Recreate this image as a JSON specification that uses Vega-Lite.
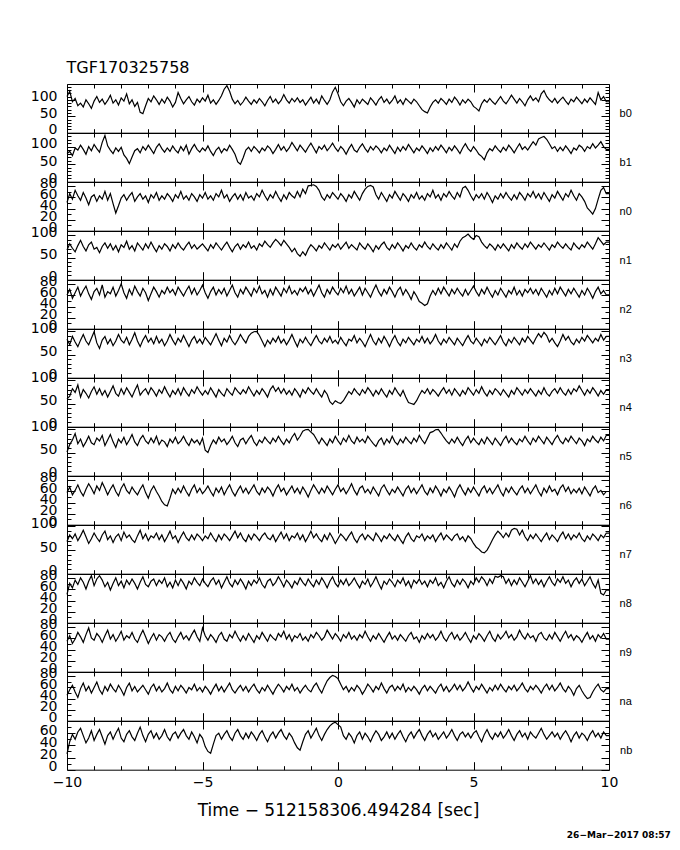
{
"$schema":"https://vega.github.io/schema/vega-lite/v6.json",
"background":"white",
"padding":{"left":28,"top":60,"right":5,"bottom":5},
"title":{"text":"TGF170325758","orient":"top","anchor":"start","frame":"bounds","angle":0,"fontSize":16,"font":"DejaVu Sans","fontWeight":"normal","align":"left","baseline":"bottom","offset":-16,"dx":38,"color":"black"},
"data":{"values":[
{"t":-10,"b0":110,"b1":81,"n0":51,"n1":67,"n2":61,"n3":83,"n4":60,"n5":51,"n6":58,"n7":68,"n8":51,"n9":55,"na":46,"nb":26},
{"t":-9.9,"b0":126,"b1":87,"n0":67,"n1":81,"n2":71,"n3":71,"n4":66,"n5":67,"n6":68,"n7":82,"n8":71,"n9":65,"na":56,"nb":46},
{"t":-9.8,"b0":94,"b1":75,"n0":57,"n1":71,"n2":55,"n3":89,"n4":82,"n5":77,"n6":54,"n7":74,"n8":63,"n9":51,"na":64,"nb":58},
{"t":-9.7,"b0":104,"b1":97,"n0":73,"n1":63,"n2":65,"n3":77,"n4":74,"n5":91,"n6":62,"n7":84,"n8":77,"n9":59,"na":52,"nb":50},
{"t":-9.6,"b0":82,"b1":91,"n0":63,"n1":77,"n2":75,"n3":67,"n4":90,"n5":69,"n6":72,"n7":70,"n8":69,"n9":71,"na":42,"nb":62},
{"t":-9.5,"b0":90,"b1":105,"n0":55,"n1":89,"n2":59,"n3":81,"n4":64,"n5":79,"n6":60,"n7":80,"n8":81,"n9":63,"na":58,"nb":68},
{"t":-9.4,"b0":78,"b1":93,"n0":69,"n1":75,"n2":69,"n3":93,"n4":80,"n5":63,"n6":52,"n7":92,"n8":73,"n9":53,"na":68,"nb":56},
{"t":-9.3,"b0":100,"b1":79,"n0":59,"n1":65,"n2":77,"n3":79,"n4":72,"n5":73,"n6":64,"n7":78,"n8":61,"n9":67,"na":54,"nb":44},
{"t":-9.2,"b0":88,"b1":101,"n0":47,"n1":79,"n2":63,"n3":71,"n4":62,"n5":85,"n6":74,"n7":64,"n8":75,"n9":79,"na":62,"nb":52},
{"t":-9.1,"b0":74,"b1":89,"n0":61,"n1":85,"n2":53,"n3":85,"n4":76,"n5":71,"n6":66,"n7":74,"n8":85,"n9":61,"na":50,"nb":64},
{"t":-9,"b0":96,"b1":107,"n0":65,"n1":69,"n2":67,"n3":99,"n4":86,"n5":67,"n6":56,"n7":86,"n8":67,"n9":57,"na":60,"nb":48},
{"t":-8.9,"b0":110,"b1":95,"n0":53,"n1":73,"n2":73,"n3":75,"n4":70,"n5":81,"n6":70,"n7":76,"n8":79,"n9":69,"na":70,"nb":58},
{"t":-8.8,"b0":92,"b1":85,"n0":63,"n1":61,"n2":61,"n3":63,"n4":82,"n5":75,"n6":62,"n7":68,"n8":85,"n9":63,"na":56,"nb":66},
{"t":-8.7,"b0":102,"b1":113,"n0":57,"n1":75,"n2":79,"n3":81,"n4":68,"n5":87,"n6":76,"n7":82,"n8":77,"n9":53,"na":48,"nb":54},
{"t":-8.6,"b0":86,"b1":133,"n0":71,"n1":83,"n2":57,"n3":89,"n4":78,"n5":65,"n6":66,"n7":90,"n8":65,"n9":65,"na":62,"nb":42},
{"t":-8.5,"b0":98,"b1":103,"n0":55,"n1":71,"n2":67,"n3":73,"n4":64,"n5":77,"n6":54,"n7":72,"n8":73,"n9":75,"na":54,"nb":56},
{"t":-8.4,"b0":114,"b1":91,"n0":67,"n1":81,"n2":63,"n3":83,"n4":76,"n5":89,"n6":64,"n7":80,"n8":59,"n9":59,"na":66,"nb":62},
{"t":-8.3,"b0":90,"b1":81,"n0":49,"n1":67,"n2":75,"n3":69,"n4":88,"n5":73,"n6":72,"n7":66,"n8":71,"n9":67,"na":58,"nb":50},
{"t":-8.2,"b0":100,"b1":97,"n0":32,"n1":77,"n2":59,"n3":79,"n4":72,"n5":61,"n6":60,"n7":78,"n8":81,"n9":55,"na":52,"nb":60},
{"t":-8.1,"b0":84,"b1":87,"n0":45,"n1":63,"n2":69,"n3":93,"n4":66,"n5":79,"n6":52,"n7":84,"n8":67,"n9":63,"na":64,"nb":68},
{"t":-8,"b0":106,"b1":99,"n0":59,"n1":79,"n2":81,"n3":81,"n4":82,"n5":71,"n6":66,"n7":70,"n8":75,"n9":73,"na":56,"nb":52},
{"t":-7.9,"b0":96,"b1":77,"n0":65,"n1":73,"n2":65,"n3":75,"n4":70,"n5":83,"n6":74,"n7":88,"n8":63,"n9":57,"na":46,"nb":46},
{"t":-7.8,"b0":118,"b1":67,"n0":55,"n1":87,"n2":55,"n3":87,"n4":84,"n5":67,"n6":62,"n7":76,"n8":77,"n9":65,"na":60,"nb":58},
{"t":-7.7,"b0":88,"b1":52,"n0":63,"n1":69,"n2":71,"n3":71,"n4":74,"n5":77,"n6":56,"n7":82,"n8":69,"n9":61,"na":68,"nb":64},
{"t":-7.6,"b0":100,"b1":71,"n0":69,"n1":77,"n2":61,"n3":83,"n4":64,"n5":89,"n6":68,"n7":72,"n8":79,"n9":71,"na":54,"nb":54},
{"t":-7.5,"b0":80,"b1":89,"n0":53,"n1":65,"n2":77,"n3":97,"n4":78,"n5":73,"n6":60,"n7":66,"n8":71,"n9":59,"na":62,"nb":48},
{"t":-7.4,"b0":92,"b1":95,"n0":61,"n1":83,"n2":67,"n3":79,"n4":90,"n5":65,"n6":54,"n7":80,"n8":61,"n9":53,"na":52,"nb":60},
{"t":-7.3,"b0":62,"b1":83,"n0":67,"n1":75,"n2":59,"n3":67,"n4":68,"n5":79,"n6":64,"n7":92,"n8":73,"n9":65,"na":58,"nb":70},
{"t":-7.2,"b0":58,"b1":101,"n0":57,"n1":67,"n2":73,"n3":81,"n4":76,"n5":87,"n6":72,"n7":74,"n8":83,"n9":75,"na":64,"nb":56},
{"t":-7.1,"b0":82,"b1":91,"n0":63,"n1":81,"n2":65,"n3":91,"n4":82,"n5":75,"n6":58,"n7":84,"n8":69,"n9":63,"na":56,"nb":46},
{"t":-7,"b0":104,"b1":105,"n0":51,"n1":71,"n2":51,"n3":77,"n4":70,"n5":69,"n6":48,"n7":70,"n8":65,"n9":51,"na":48,"nb":58},
{"t":-6.9,"b0":94,"b1":93,"n0":65,"n1":85,"n2":63,"n3":85,"n4":84,"n5":81,"n6":62,"n7":80,"n8":75,"n9":61,"na":60,"nb":64},
{"t":-6.8,"b0":112,"b1":81,"n0":59,"n1":73,"n2":75,"n3":73,"n4":76,"n5":71,"n6":70,"n7":76,"n8":79,"n9":69,"na":66,"nb":52},
{"t":-6.7,"b0":100,"b1":99,"n0":69,"n1":63,"n2":67,"n3":89,"n4":66,"n5":85,"n6":60,"n7":86,"n8":67,"n9":57,"na":54,"nb":60},
{"t":-6.6,"b0":86,"b1":109,"n0":55,"n1":77,"n2":57,"n3":75,"n4":80,"n5":67,"n6":52,"n7":72,"n8":77,"n9":67,"na":62,"nb":50},
{"t":-6.5,"b0":102,"b1":95,"n0":63,"n1":69,"n2":69,"n3":83,"n4":72,"n5":77,"n6":42,"n7":82,"n8":71,"n9":63,"na":52,"nb":56},
{"t":-6.4,"b0":90,"b1":85,"n0":57,"n1":81,"n2":63,"n3":69,"n4":86,"n5":73,"n6":36,"n7":68,"n8":81,"n9":55,"na":58,"nb":66},
{"t":-6.3,"b0":108,"b1":97,"n0":67,"n1":75,"n2":75,"n3":79,"n4":74,"n5":63,"n6":34,"n7":78,"n8":65,"n9":65,"na":68,"nb":54},
{"t":-6.2,"b0":96,"b1":87,"n0":61,"n1":65,"n2":65,"n3":93,"n4":64,"n5":79,"n6":48,"n7":90,"n8":73,"n9":71,"na":56,"nb":48},
{"t":-6.1,"b0":78,"b1":103,"n0":53,"n1":79,"n2":71,"n3":81,"n4":78,"n5":71,"n6":64,"n7":74,"n8":63,"n9":59,"na":50,"nb":58},
{"t":-6,"b0":92,"b1":91,"n0":65,"n1":71,"n2":61,"n3":71,"n4":70,"n5":83,"n6":56,"n7":80,"n8":77,"n9":53,"na":62,"nb":62},
{"t":-5.9,"b0":122,"b1":83,"n0":59,"n1":83,"n2":75,"n3":85,"n4":82,"n5":69,"n6":66,"n7":66,"n8":67,"n9":63,"na":54,"nb":52},
{"t":-5.8,"b0":104,"b1":101,"n0":71,"n1":73,"n2":67,"n3":77,"n4":68,"n5":75,"n6":58,"n7":78,"n8":79,"n9":71,"na":64,"nb":60},
{"t":-5.7,"b0":88,"b1":89,"n0":57,"n1":67,"n2":59,"n3":91,"n4":84,"n5":85,"n6":70,"n7":88,"n8":71,"n9":59,"na":58,"nb":66},
{"t":-5.6,"b0":100,"b1":105,"n0":63,"n1":77,"n2":69,"n3":79,"n4":74,"n5":73,"n6":60,"n7":76,"n8":61,"n9":65,"na":50,"nb":56},
{"t":-5.5,"b0":110,"b1":79,"n0":55,"n1":85,"n2":77,"n3":67,"n4":66,"n5":65,"n6":52,"n7":70,"n8":75,"n9":57,"na":60,"nb":50},
{"t":-5.4,"b0":94,"b1":95,"n0":67,"n1":71,"n2":63,"n3":81,"n4":80,"n5":79,"n6":64,"n7":82,"n8":69,"n9":67,"na":56,"nb":62},
{"t":-5.3,"b0":84,"b1":107,"n0":61,"n1":79,"n2":73,"n3":89,"n4":72,"n5":71,"n6":72,"n7":72,"n8":81,"n9":75,"na":66,"nb":54},
{"t":-5.2,"b0":102,"b1":93,"n0":53,"n1":69,"n2":61,"n3":75,"n4":86,"n5":77,"n6":58,"n7":84,"n8":73,"n9":63,"na":54,"nb":44},
{"t":-5.1,"b0":92,"b1":85,"n0":65,"n1":75,"n2":69,"n3":83,"n4":76,"n5":67,"n6":66,"n7":78,"n8":67,"n9":55,"na":60,"nb":58},
{"t":-5,"b0":106,"b1":97,"n0":59,"n1":81,"n2":79,"n3":73,"n4":68,"n5":81,"n6":56,"n7":70,"n8":79,"n9":79,"na":52,"nb":52},
{"t":-4.9,"b0":96,"b1":89,"n0":69,"n1":73,"n2":65,"n3":87,"n4":78,"n5":55,"n6":62,"n7":80,"n8":71,"n9":65,"na":62,"nb":38},
{"t":-4.8,"b0":114,"b1":103,"n0":57,"n1":65,"n2":55,"n3":79,"n4":70,"n5":50,"n6":70,"n7":74,"n8":65,"n9":57,"na":56,"nb":30},
{"t":-4.7,"b0":90,"b1":87,"n0":63,"n1":79,"n2":67,"n3":71,"n4":84,"n5":65,"n6":60,"n7":86,"n8":75,"n9":67,"na":48,"nb":27},
{"t":-4.6,"b0":100,"b1":75,"n0":55,"n1":71,"n2":75,"n3":83,"n4":74,"n5":77,"n6":52,"n7":76,"n8":81,"n9":61,"na":58,"nb":42},
{"t":-4.5,"b0":86,"b1":91,"n0":67,"n1":83,"n2":61,"n3":95,"n4":64,"n5":69,"n6":66,"n7":68,"n8":69,"n9":53,"na":66,"nb":56},
{"t":-4.4,"b0":98,"b1":99,"n0":61,"n1":75,"n2":71,"n3":81,"n4":80,"n5":83,"n6":58,"n7":82,"n8":77,"n9":65,"na":54,"nb":60},
{"t":-4.3,"b0":112,"b1":83,"n0":73,"n1":67,"n2":63,"n3":69,"n4":72,"n5":73,"n6":68,"n7":72,"n8":63,"n9":71,"na":62,"nb":50},
{"t":-4.2,"b0":132,"b1":95,"n0":59,"n1":77,"n2":73,"n3":85,"n4":66,"n5":79,"n6":54,"n7":84,"n8":73,"n9":59,"na":52,"nb":58},
{"t":-4.1,"b0":143,"b1":89,"n0":65,"n1":85,"n2":59,"n3":77,"n4":82,"n5":67,"n6":64,"n7":78,"n8":83,"n9":55,"na":60,"nb":64},
{"t":-4,"b0":126,"b1":105,"n0":53,"n1":73,"n2":69,"n3":91,"n4":74,"n5":75,"n6":72,"n7":70,"n8":71,"n9":67,"na":68,"nb":54},
{"t":-3.9,"b0":102,"b1":93,"n0":61,"n1":63,"n2":79,"n3":79,"n4":68,"n5":85,"n6":60,"n7":80,"n8":65,"n9":61,"na":56,"nb":48},
{"t":-3.8,"b0":88,"b1":79,"n0":67,"n1":75,"n2":65,"n3":71,"n4":84,"n5":71,"n6":52,"n7":90,"n8":77,"n9":73,"na":50,"nb":60},
{"t":-3.7,"b0":98,"b1":57,"n0":57,"n1":81,"n2":57,"n3":81,"n4":76,"n5":63,"n6":62,"n7":76,"n8":69,"n9":63,"na":58,"nb":66},
{"t":-3.6,"b0":84,"b1":50,"n0":65,"n1":69,"n2":71,"n3":93,"n4":70,"n5":77,"n6":70,"n7":86,"n8":79,"n9":55,"na":64,"nb":56},
{"t":-3.5,"b0":94,"b1":69,"n0":55,"n1":79,"n2":63,"n3":83,"n4":80,"n5":81,"n6":58,"n7":74,"n8":71,"n9":65,"na":54,"nb":50},
{"t":-3.4,"b0":108,"b1":91,"n0":69,"n1":73,"n2":75,"n3":75,"n4":72,"n5":69,"n6":66,"n7":68,"n8":61,"n9":57,"na":62,"nb":60},
{"t":-3.3,"b0":96,"b1":99,"n0":59,"n1":85,"n2":67,"n3":89,"n4":86,"n5":79,"n6":56,"n7":82,"n8":75,"n9":69,"na":52,"nb":52},
{"t":-3.2,"b0":86,"b1":87,"n0":63,"n1":71,"n2":59,"n3":96,"n4":76,"n5":87,"n6":64,"n7":72,"n8":67,"n9":61,"na":60,"nb":62},
{"t":-3.1,"b0":100,"b1":101,"n0":55,"n1":77,"n2":73,"n3":99,"n4":66,"n5":73,"n6":72,"n7":84,"n8":77,"n9":53,"na":66,"nb":56},
{"t":-3,"b0":90,"b1":93,"n0":67,"n1":67,"n2":65,"n3":100,"n4":78,"n5":65,"n6":60,"n7":78,"n8":71,"n9":65,"na":56,"nb":48},
{"t":-2.9,"b0":104,"b1":83,"n0":61,"n1":81,"n2":77,"n3":91,"n4":70,"n5":77,"n6":54,"n7":70,"n8":81,"n9":59,"na":50,"nb":58},
{"t":-2.8,"b0":94,"b1":97,"n0":73,"n1":75,"n2":63,"n3":79,"n4":82,"n5":71,"n6":66,"n7":80,"n8":69,"n9":71,"na":60,"nb":64},
{"t":-2.7,"b0":82,"b1":89,"n0":63,"n1":87,"n2":69,"n3":67,"n4":74,"n5":83,"n6":58,"n7":86,"n8":63,"n9":63,"na":54,"nb":54},
{"t":-2.6,"b0":98,"b1":103,"n0":55,"n1":79,"n2":57,"n3":81,"n4":64,"n5":75,"n6":68,"n7":76,"n8":75,"n9":55,"na":64,"nb":46},
{"t":-2.5,"b0":110,"b1":95,"n0":65,"n1":73,"n2":71,"n3":73,"n4":80,"n5":69,"n6":62,"n7":72,"n8":79,"n9":67,"na":56,"nb":56},
{"t":-2.4,"b0":92,"b1":81,"n0":59,"n1":83,"n2":61,"n3":85,"n4":88,"n5":81,"n6":52,"n7":82,"n8":67,"n9":61,"na":48,"nb":62},
{"t":-2.3,"b0":102,"b1":93,"n0":71,"n1":91,"n2":75,"n3":77,"n4":76,"n5":73,"n6":64,"n7":68,"n8":73,"n9":57,"na":58,"nb":52},
{"t":-2.2,"b0":88,"b1":107,"n0":61,"n1":85,"n2":67,"n3":89,"n4":84,"n5":85,"n6":72,"n7":78,"n8":83,"n9":69,"na":66,"nb":60},
{"t":-2.1,"b0":98,"b1":91,"n0":53,"n1":77,"n2":59,"n3":75,"n4":72,"n5":75,"n6":60,"n7":88,"n8":75,"n9":63,"na":60,"nb":66},
{"t":-2,"b0":116,"b1":101,"n0":65,"n1":89,"n2":73,"n3":83,"n4":82,"n5":67,"n6":66,"n7":74,"n8":65,"n9":73,"na":52,"nb":56},
{"t":-1.9,"b0":100,"b1":87,"n0":57,"n1":81,"n2":65,"n3":71,"n4":70,"n5":79,"n6":54,"n7":84,"n8":77,"n9":59,"na":62,"nb":50},
{"t":-1.8,"b0":90,"b1":97,"n0":69,"n1":73,"n2":77,"n3":81,"n4":78,"n5":71,"n6":62,"n7":70,"n8":71,"n9":67,"na":56,"nb":60},
{"t":-1.7,"b0":104,"b1":113,"n0":63,"n1":63,"n2":63,"n3":93,"n4":68,"n5":83,"n6":70,"n7":80,"n8":63,"n9":55,"na":66,"nb":54},
{"t":-1.6,"b0":94,"b1":101,"n0":59,"n1":71,"n2":69,"n3":79,"n4":82,"n5":91,"n6":58,"n7":76,"n8":75,"n9":65,"na":54,"nb":44},
{"t":-1.5,"b0":106,"b1":89,"n0":71,"n1":59,"n2":61,"n3":67,"n4":74,"n5":77,"n6":66,"n7":86,"n8":69,"n9":61,"na":60,"nb":36},
{"t":-1.4,"b0":92,"b1":105,"n0":61,"n1":53,"n2":73,"n3":83,"n4":64,"n5":85,"n6":56,"n7":72,"n8":81,"n9":69,"na":50,"nb":32},
{"t":-1.3,"b0":100,"b1":95,"n0":75,"n1":63,"n2":67,"n3":75,"n4":80,"n5":96,"n6":68,"n7":82,"n8":73,"n9":57,"na":58,"nb":46},
{"t":-1.2,"b0":84,"b1":85,"n0":67,"n1":55,"n2":75,"n3":87,"n4":72,"n5":99,"n6":60,"n7":68,"n8":67,"n9":63,"na":64,"nb":58},
{"t":-1.1,"b0":96,"b1":99,"n0":81,"n1":69,"n2":63,"n3":77,"n4":84,"n5":100,"n6":50,"n7":78,"n8":79,"n9":55,"na":56,"nb":64},
{"t":-1,"b0":108,"b1":111,"n0":82,"n1":79,"n2":71,"n3":69,"n4":76,"n5":94,"n6":62,"n7":90,"n8":71,"n9":67,"na":52,"nb":52},
{"t":-0.9,"b0":90,"b1":97,"n0":83,"n1":73,"n2":59,"n3":81,"n4":70,"n5":89,"n6":72,"n7":76,"n8":65,"n9":61,"na":62,"nb":60},
{"t":-0.8,"b0":102,"b1":83,"n0":80,"n1":65,"n2":69,"n3":91,"n4":82,"n5":79,"n6":64,"n7":84,"n8":77,"n9":71,"na":68,"nb":68},
{"t":-0.7,"b0":88,"b1":101,"n0":73,"n1":77,"n2":79,"n3":79,"n4":72,"n5":69,"n6":56,"n7":74,"n8":69,"n9":65,"na":58,"nb":56},
{"t":-0.6,"b0":112,"b1":93,"n0":61,"n1":71,"n2":65,"n3":73,"n4":64,"n5":81,"n6":66,"n7":68,"n8":81,"n9":57,"na":50,"nb":48},
{"t":-0.5,"b0":98,"b1":105,"n0":55,"n1":83,"n2":57,"n3":85,"n4":78,"n5":73,"n6":58,"n7":82,"n8":73,"n9":63,"na":62,"nb":58},
{"t":-0.4,"b0":86,"b1":89,"n0":65,"n1":75,"n2":71,"n3":77,"n4":70,"n5":65,"n6":70,"n7":72,"n8":63,"n9":75,"na":72,"nb":66},
{"t":-0.3,"b0":100,"b1":99,"n0":59,"n1":67,"n2":63,"n3":89,"n4":54,"n5":79,"n6":62,"n7":86,"n8":75,"n9":67,"na":78,"nb":72},
{"t":-0.2,"b0":124,"b1":111,"n0":69,"n1":79,"n2":75,"n3":75,"n4":48,"n5":71,"n6":54,"n7":76,"n8":83,"n9":59,"na":82,"nb":76},
{"t":-0.1,"b0":138,"b1":97,"n0":63,"n1":73,"n2":67,"n3":81,"n4":56,"n5":85,"n6":64,"n7":64,"n8":71,"n9":69,"na":80,"nb":78},
{"t":0,"b0":118,"b1":87,"n0":57,"n1":81,"n2":61,"n3":73,"n4":52,"n5":75,"n6":72,"n7":74,"n8":65,"n9":63,"na":76,"nb":74},
{"t":0.1,"b0":94,"b1":101,"n0":67,"n1":69,"n2":73,"n3":87,"n4":50,"n5":67,"n6":60,"n7":84,"n8":77,"n9":55,"na":66,"nb":70},
{"t":0.2,"b0":82,"b1":93,"n0":61,"n1":77,"n2":65,"n3":77,"n4":56,"n5":81,"n6":66,"n7":78,"n8":69,"n9":67,"na":56,"nb":56},
{"t":0.3,"b0":96,"b1":79,"n0":53,"n1":85,"n2":77,"n3":69,"n4":66,"n5":73,"n6":56,"n7":70,"n8":79,"n9":61,"na":62,"nb":50},
{"t":0.4,"b0":104,"b1":95,"n0":65,"n1":71,"n2":63,"n3":83,"n4":76,"n5":87,"n6":64,"n7":80,"n8":67,"n9":71,"na":52,"nb":60},
{"t":0.5,"b0":92,"b1":107,"n0":59,"n1":79,"n2":71,"n3":79,"n4":70,"n5":75,"n6":74,"n7":88,"n8":73,"n9":59,"na":60,"nb":54},
{"t":0.6,"b0":78,"b1":91,"n0":71,"n1":73,"n2":59,"n3":91,"n4":82,"n5":69,"n6":62,"n7":74,"n8":81,"n9":65,"na":54,"nb":44},
{"t":0.7,"b0":100,"b1":85,"n0":63,"n1":67,"n2":67,"n3":75,"n4":74,"n5":83,"n6":54,"n7":66,"n8":71,"n9":57,"na":64,"nb":56},
{"t":0.8,"b0":88,"b1":99,"n0":55,"n1":83,"n2":75,"n3":85,"n4":68,"n5":73,"n6":66,"n7":78,"n8":63,"n9":67,"na":58,"nb":62},
{"t":0.9,"b0":102,"b1":109,"n0":67,"n1":75,"n2":61,"n3":77,"n4":80,"n5":79,"n6":70,"n7":84,"n8":75,"n9":61,"na":48,"nb":50},
{"t":1,"b0":94,"b1":95,"n0":75,"n1":69,"n2":73,"n3":67,"n4":72,"n5":71,"n6":58,"n7":72,"n8":69,"n9":73,"na":56,"nb":60},
{"t":1.1,"b0":86,"b1":85,"n0":80,"n1":81,"n2":65,"n3":81,"n4":84,"n5":85,"n6":64,"n7":82,"n8":79,"n9":63,"na":66,"nb":54},
{"t":1.2,"b0":106,"b1":101,"n0":82,"n1":73,"n2":57,"n3":93,"n4":76,"n5":77,"n6":56,"n7":76,"n8":65,"n9":55,"na":60,"nb":46},
{"t":1.3,"b0":96,"b1":91,"n0":79,"n1":63,"n2":69,"n3":79,"n4":66,"n5":69,"n6":68,"n7":70,"n8":73,"n9":65,"na":52,"nb":56},
{"t":1.4,"b0":84,"b1":103,"n0":65,"n1":77,"n2":79,"n3":71,"n4":78,"n5":63,"n6":60,"n7":86,"n8":83,"n9":59,"na":62,"nb":64},
{"t":1.5,"b0":100,"b1":95,"n0":57,"n1":69,"n2":67,"n3":85,"n4":70,"n5":75,"n6":52,"n7":78,"n8":71,"n9":69,"na":56,"nb":58},
{"t":1.6,"b0":110,"b1":83,"n0":69,"n1":79,"n2":59,"n3":75,"n4":82,"n5":81,"n6":66,"n7":68,"n8":61,"n9":61,"na":68,"nb":48},
{"t":1.7,"b0":92,"b1":97,"n0":61,"n1":85,"n2":71,"n3":89,"n4":72,"n5":67,"n6":72,"n7":80,"n8":75,"n9":53,"na":58,"nb":54},
{"t":1.8,"b0":102,"b1":89,"n0":53,"n1":73,"n2":63,"n3":79,"n4":64,"n5":79,"n6":62,"n7":74,"n8":69,"n9":63,"na":50,"nb":62},
{"t":1.9,"b0":88,"b1":105,"n0":65,"n1":67,"n2":75,"n3":67,"n4":78,"n5":71,"n6":54,"n7":84,"n8":79,"n9":71,"na":60,"nb":52},
{"t":2,"b0":98,"b1":93,"n0":59,"n1":79,"n2":67,"n3":81,"n4":70,"n5":85,"n6":64,"n7":76,"n8":73,"n9":59,"na":64,"nb":60},
{"t":2.1,"b0":112,"b1":81,"n0":71,"n1":71,"n2":57,"n3":91,"n4":84,"n5":73,"n6":58,"n7":70,"n8":65,"n9":65,"na":54,"nb":50},
{"t":2.2,"b0":90,"b1":99,"n0":63,"n1":83,"n2":69,"n3":77,"n4":74,"n5":67,"n6":68,"n7":82,"n8":77,"n9":57,"na":62,"nb":58},
{"t":2.3,"b0":100,"b1":87,"n0":55,"n1":75,"n2":75,"n3":69,"n4":66,"n5":79,"n6":60,"n7":72,"n8":71,"n9":67,"na":56,"nb":64},
{"t":2.4,"b0":86,"b1":101,"n0":67,"n1":65,"n2":61,"n3":83,"n4":78,"n5":71,"n6":52,"n7":64,"n8":81,"n9":61,"na":66,"nb":54},
{"t":2.5,"b0":104,"b1":91,"n0":61,"n1":77,"n2":71,"n3":75,"n4":64,"n5":83,"n6":64,"n7":78,"n8":67,"n9":55,"na":52,"nb":46},
{"t":2.6,"b0":96,"b1":107,"n0":53,"n1":71,"n2":63,"n3":87,"n4":52,"n5":75,"n6":70,"n7":86,"n8":75,"n9":65,"na":60,"nb":56},
{"t":2.7,"b0":88,"b1":95,"n0":65,"n1":83,"n2":53,"n3":79,"n4":50,"n5":69,"n6":58,"n7":74,"n8":63,"n9":71,"na":54,"nb":62},
{"t":2.8,"b0":102,"b1":83,"n0":59,"n1":73,"n2":67,"n3":71,"n4":48,"n5":81,"n6":66,"n7":68,"n8":77,"n9":59,"na":62,"nb":52},
{"t":2.9,"b0":94,"b1":97,"n0":69,"n1":67,"n2":59,"n3":83,"n4":56,"n5":73,"n6":56,"n7":80,"n8":71,"n9":63,"na":56,"nb":60},
{"t":3,"b0":82,"b1":89,"n0":57,"n1":79,"n2":49,"n3":77,"n4":68,"n5":87,"n6":64,"n7":76,"n8":79,"n9":53,"na":48,"nb":66},
{"t":3.1,"b0":70,"b1":103,"n0":63,"n1":73,"n2":46,"n3":89,"n4":78,"n5":77,"n6":72,"n7":84,"n8":69,"n9":65,"na":58,"nb":56},
{"t":3.2,"b0":64,"b1":93,"n0":55,"n1":85,"n2":42,"n3":75,"n4":72,"n5":69,"n6":60,"n7":70,"n8":75,"n9":59,"na":64,"nb":48},
{"t":3.3,"b0":60,"b1":81,"n0":67,"n1":75,"n2":45,"n3":85,"n4":82,"n5":81,"n6":54,"n7":80,"n8":65,"n9":69,"na":54,"nb":58},
{"t":3.4,"b0":78,"b1":97,"n0":61,"n1":69,"n2":59,"n3":73,"n4":70,"n5":93,"n6":66,"n7":74,"n8":77,"n9":61,"na":62,"nb":64},
{"t":3.5,"b0":92,"b1":87,"n0":73,"n1":81,"n2":69,"n3":81,"n4":80,"n5":95,"n6":58,"n7":82,"n8":71,"n9":67,"na":56,"nb":54},
{"t":3.6,"b0":100,"b1":101,"n0":59,"n1":73,"n2":61,"n3":93,"n4":74,"n5":99,"n6":70,"n7":68,"n8":81,"n9":57,"na":50,"nb":60},
{"t":3.7,"b0":90,"b1":91,"n0":65,"n1":67,"n2":73,"n3":79,"n4":66,"n5":100,"n6":62,"n7":78,"n8":67,"n9":63,"na":60,"nb":50},
{"t":3.8,"b0":104,"b1":105,"n0":55,"n1":79,"n2":63,"n3":71,"n4":76,"n5":92,"n6":52,"n7":86,"n8":73,"n9":73,"na":66,"nb":56},
{"t":3.9,"b0":96,"b1":95,"n0":67,"n1":71,"n2":75,"n3":83,"n4":84,"n5":83,"n6":64,"n7":72,"n8":63,"n9":61,"na":54,"nb":62},
{"t":4,"b0":86,"b1":83,"n0":61,"n1":83,"n2":67,"n3":75,"n4":72,"n5":75,"n6":58,"n7":82,"n8":75,"n9":55,"na":62,"nb":52},
{"t":4.1,"b0":102,"b1":99,"n0":71,"n1":75,"n2":59,"n3":87,"n4":80,"n5":69,"n6":68,"n7":76,"n8":83,"n9":65,"na":52,"nb":58},
{"t":4.2,"b0":92,"b1":89,"n0":63,"n1":67,"n2":71,"n3":79,"n4":68,"n5":79,"n6":60,"n7":70,"n8":71,"n9":71,"na":58,"nb":66},
{"t":4.3,"b0":108,"b1":103,"n0":57,"n1":81,"n2":63,"n3":71,"n4":82,"n5":71,"n6":50,"n7":80,"n8":65,"n9":59,"na":66,"nb":56},
{"t":4.4,"b0":98,"b1":93,"n0":69,"n1":73,"n2":73,"n3":85,"n4":74,"n5":83,"n6":64,"n7":84,"n8":77,"n9":67,"na":56,"nb":48},
{"t":4.5,"b0":84,"b1":81,"n0":61,"n1":87,"n2":65,"n3":77,"n4":66,"n5":73,"n6":72,"n7":72,"n8":69,"n9":57,"na":64,"nb":58},
{"t":4.6,"b0":100,"b1":97,"n0":77,"n1":95,"n2":59,"n3":69,"n4":78,"n5":65,"n6":62,"n7":78,"n8":79,"n9":63,"na":54,"nb":62},
{"t":4.7,"b0":90,"b1":109,"n0":80,"n1":98,"n2":71,"n3":81,"n4":70,"n5":77,"n6":54,"n7":68,"n8":73,"n9":71,"na":60,"nb":54},
{"t":4.8,"b0":102,"b1":95,"n0":73,"n1":103,"n2":61,"n3":91,"n4":84,"n5":85,"n6":66,"n7":80,"n8":63,"n9":61,"na":70,"nb":60},
{"t":4.9,"b0":94,"b1":87,"n0":63,"n1":96,"n2":69,"n3":79,"n4":76,"n5":71,"n6":58,"n7":74,"n8":75,"n9":53,"na":60,"nb":52},
{"t":5,"b0":80,"b1":101,"n0":55,"n1":91,"n2":77,"n3":73,"n4":68,"n5":81,"n6":68,"n7":64,"n8":69,"n9":65,"na":52,"nb":60},
{"t":5.1,"b0":74,"b1":91,"n0":65,"n1":100,"n2":67,"n3":85,"n4":80,"n5":73,"n6":60,"n7":56,"n8":81,"n9":59,"na":62,"nb":64},
{"t":5.2,"b0":66,"b1":79,"n0":59,"n1":97,"n2":59,"n3":77,"n4":72,"n5":67,"n6":52,"n7":52,"n8":73,"n9":69,"na":56,"nb":54},
{"t":5.3,"b0":88,"b1":73,"n0":67,"n1":85,"n2":71,"n3":69,"n4":86,"n5":79,"n6":64,"n7":46,"n8":83,"n9":63,"na":66,"nb":46},
{"t":5.4,"b0":100,"b1":63,"n0":57,"n1":77,"n2":63,"n3":83,"n4":74,"n5":69,"n6":70,"n7":44,"n8":77,"n9":55,"na":58,"nb":58},
{"t":5.5,"b0":92,"b1":83,"n0":69,"n1":71,"n2":75,"n3":75,"n4":66,"n5":83,"n6":58,"n7":50,"n8":67,"n9":65,"na":50,"nb":66},
{"t":5.6,"b0":104,"b1":95,"n0":61,"n1":81,"n2":65,"n3":87,"n4":78,"n5":75,"n6":66,"n7":60,"n8":79,"n9":73,"na":60,"nb":56},
{"t":5.7,"b0":94,"b1":89,"n0":51,"n1":75,"n2":57,"n3":79,"n4":70,"n5":67,"n6":56,"n7":72,"n8":71,"n9":61,"na":54,"nb":50},
{"t":5.8,"b0":86,"b1":103,"n0":63,"n1":67,"n2":69,"n3":71,"n4":82,"n5":81,"n6":64,"n7":82,"n8":84,"n9":55,"na":64,"nb":60},
{"t":5.9,"b0":98,"b1":93,"n0":57,"n1":79,"n2":61,"n3":81,"n4":76,"n5":73,"n6":72,"n7":90,"n8":82,"n9":67,"na":56,"nb":54},
{"t":6,"b0":110,"b1":85,"n0":67,"n1":71,"n2":73,"n3":91,"n4":68,"n5":65,"n6":60,"n7":84,"n8":85,"n9":59,"na":66,"nb":62},
{"t":6.1,"b0":96,"b1":99,"n0":59,"n1":81,"n2":65,"n3":77,"n4":80,"n5":77,"n6":52,"n7":76,"n8":83,"n9":65,"na":58,"nb":52},
{"t":6.2,"b0":88,"b1":89,"n0":69,"n1":73,"n2":57,"n3":69,"n4":72,"n5":85,"n6":66,"n7":86,"n8":71,"n9":73,"na":52,"nb":58},
{"t":6.3,"b0":100,"b1":105,"n0":61,"n1":65,"n2":69,"n3":83,"n4":64,"n5":71,"n6":58,"n7":78,"n8":79,"n9":61,"na":62,"nb":66},
{"t":6.4,"b0":114,"b1":95,"n0":55,"n1":79,"n2":63,"n3":75,"n4":78,"n5":81,"n6":68,"n7":92,"n8":67,"n9":67,"na":56,"nb":56},
{"t":6.5,"b0":102,"b1":83,"n0":65,"n1":71,"n2":75,"n3":87,"n4":70,"n5":73,"n6":60,"n7":96,"n8":77,"n9":57,"na":64,"nb":48},
{"t":6.6,"b0":90,"b1":97,"n0":57,"n1":83,"n2":61,"n3":79,"n4":84,"n5":67,"n6":54,"n7":94,"n8":69,"n9":63,"na":54,"nb":58},
{"t":6.7,"b0":104,"b1":109,"n0":69,"n1":75,"n2":69,"n3":71,"n4":76,"n5":79,"n6":64,"n7":82,"n8":81,"n9":75,"na":60,"nb":64},
{"t":6.8,"b0":94,"b1":93,"n0":63,"n1":69,"n2":59,"n3":85,"n4":68,"n5":73,"n6":70,"n7":92,"n8":73,"n9":65,"na":68,"nb":54},
{"t":6.9,"b0":82,"b1":101,"n0":55,"n1":81,"n2":71,"n3":77,"n4":80,"n5":85,"n6":58,"n7":78,"n8":65,"n9":59,"na":58,"nb":60},
{"t":7,"b0":100,"b1":91,"n0":67,"n1":73,"n2":65,"n3":89,"n4":72,"n5":75,"n6":66,"n7":70,"n8":75,"n9":69,"na":52,"nb":50},
{"t":7.1,"b0":112,"b1":103,"n0":61,"n1":85,"n2":73,"n3":81,"n4":82,"n5":67,"n6":56,"n7":82,"n8":85,"n9":61,"na":62,"nb":62},
{"t":7.2,"b0":98,"b1":115,"n0":71,"n1":77,"n2":63,"n3":73,"n4":74,"n5":81,"n6":64,"n7":74,"n8":71,"n9":65,"na":56,"nb":56},
{"t":7.3,"b0":106,"b1":105,"n0":59,"n1":69,"n2":71,"n3":85,"n4":66,"n5":73,"n6":72,"n7":84,"n8":79,"n9":55,"na":64,"nb":52},
{"t":7.4,"b0":94,"b1":123,"n0":67,"n1":79,"n2":61,"n3":95,"n4":78,"n5":85,"n6":60,"n7":76,"n8":69,"n9":67,"na":58,"nb":60},
{"t":7.5,"b0":118,"b1":127,"n0":57,"n1":73,"n2":73,"n3":87,"n4":70,"n5":77,"n6":52,"n7":68,"n8":77,"n9":71,"na":50,"nb":68},
{"t":7.6,"b0":128,"b1":130,"n0":69,"n1":83,"n2":65,"n3":98,"n4":84,"n5":69,"n6":66,"n7":78,"n8":65,"n9":61,"na":60,"nb":58},
{"t":7.7,"b0":110,"b1":122,"n0":61,"n1":75,"n2":57,"n3":91,"n4":72,"n5":83,"n6":58,"n7":86,"n8":75,"n9":57,"na":66,"nb":50},
{"t":7.8,"b0":100,"b1":109,"n0":53,"n1":67,"n2":69,"n3":77,"n4":66,"n5":75,"n6":70,"n7":72,"n8":83,"n9":67,"na":56,"nb":56},
{"t":7.9,"b0":92,"b1":95,"n0":65,"n1":79,"n2":61,"n3":85,"n4":76,"n5":67,"n6":60,"n7":82,"n8":73,"n9":59,"na":64,"nb":62},
{"t":8,"b0":104,"b1":101,"n0":59,"n1":73,"n2":73,"n3":75,"n4":82,"n5":79,"n6":64,"n7":76,"n8":67,"n9":71,"na":54,"nb":54},
{"t":8.1,"b0":90,"b1":87,"n0":71,"n1":85,"n2":63,"n3":67,"n4":72,"n5":87,"n6":54,"n7":68,"n8":79,"n9":63,"na":60,"nb":60},
{"t":8.2,"b0":100,"b1":99,"n0":63,"n1":77,"n2":75,"n3":79,"n4":84,"n5":75,"n6":66,"n7":80,"n8":73,"n9":55,"na":68,"nb":50},
{"t":8.3,"b0":108,"b1":89,"n0":55,"n1":71,"n2":67,"n3":93,"n4":74,"n5":69,"n6":72,"n7":88,"n8":83,"n9":65,"na":58,"nb":58},
{"t":8.4,"b0":96,"b1":103,"n0":67,"n1":81,"n2":59,"n3":81,"n4":68,"n5":81,"n6":60,"n7":74,"n8":71,"n9":73,"na":52,"nb":64},
{"t":8.5,"b0":86,"b1":93,"n0":61,"n1":73,"n2":71,"n3":89,"n4":80,"n5":73,"n6":68,"n7":84,"n8":77,"n9":61,"na":62,"nb":56},
{"t":8.6,"b0":102,"b1":81,"n0":73,"n1":67,"n2":63,"n3":77,"n4":70,"n5":85,"n6":56,"n7":72,"n8":65,"n9":67,"na":56,"nb":46},
{"t":8.7,"b0":94,"b1":97,"n0":63,"n1":83,"n2":73,"n3":71,"n4":82,"n5":77,"n6":64,"n7":82,"n8":75,"n9":57,"na":46,"nb":56},
{"t":8.8,"b0":108,"b1":91,"n0":55,"n1":75,"n2":65,"n3":83,"n4":76,"n5":69,"n6":58,"n7":76,"n8":81,"n9":65,"na":58,"nb":62},
{"t":8.9,"b0":98,"b1":105,"n0":67,"n1":69,"n2":57,"n3":75,"n4":88,"n5":81,"n6":66,"n7":86,"n8":71,"n9":61,"na":64,"nb":52},
{"t":9,"b0":88,"b1":99,"n0":61,"n1":79,"n2":69,"n3":87,"n4":78,"n5":75,"n6":56,"n7":74,"n8":79,"n9":53,"na":54,"nb":60},
{"t":9.1,"b0":102,"b1":87,"n0":53,"n1":73,"n2":61,"n3":79,"n4":68,"n5":65,"n6":68,"n7":68,"n8":67,"n9":63,"na":46,"nb":56},
{"t":9.2,"b0":92,"b1":101,"n0":41,"n1":85,"n2":73,"n3":91,"n4":80,"n5":79,"n6":60,"n7":80,"n8":75,"n9":71,"na":40,"nb":48},
{"t":9.3,"b0":106,"b1":95,"n0":36,"n1":77,"n2":65,"n3":83,"n4":72,"n5":73,"n6":52,"n7":72,"n8":83,"n9":59,"na":42,"nb":58},
{"t":9.4,"b0":96,"b1":109,"n0":30,"n1":69,"n2":55,"n3":75,"n4":84,"n5":85,"n6":64,"n7":84,"n8":71,"n9":65,"na":52,"nb":64},
{"t":9.5,"b0":86,"b1":97,"n0":40,"n1":81,"n2":67,"n3":85,"n4":76,"n5":77,"n6":70,"n7":78,"n8":63,"n9":55,"na":60,"nb":54},
{"t":9.6,"b0":122,"b1":105,"n0":57,"n1":95,"n2":75,"n3":79,"n4":66,"n5":71,"n6":58,"n7":70,"n8":77,"n9":67,"na":66,"nb":60},
{"t":9.7,"b0":100,"b1":115,"n0":73,"n1":87,"n2":63,"n3":93,"n4":78,"n5":83,"n6":62,"n7":82,"n8":53,"n9":61,"na":56,"nb":52},
{"t":9.8,"b0":110,"b1":101,"n0":78,"n1":79,"n2":69,"n3":81,"n4":70,"n5":75,"n6":54,"n7":76,"n8":50,"n9":69,"na":52,"nb":62},
{"t":9.9,"b0":94,"b1":93,"n0":67,"n1":85,"n2":61,"n3":89,"n4":80,"n5":87,"n6":60,"n7":86,"n8":59,"n9":59,"na":58,"nb":56},
{"t":10,"b0":94,"b1":93,"n0":67,"n1":85,"n2":61,"n3":89,"n4":80,"n5":87,"n6":60,"n7":86,"n8":59,"n9":59,"na":58,"nb":56}
]},
"vconcat":[{
"title":{"text":"26\u2212Mar\u22122017 08:57","orient":"bottom","anchor":"end","frame":"bounds","angle":0,"fontSize":9,"font":"DejaVu Sans","fontWeight":"bold","align":"right","baseline":"top","offset":12,"dx":38,"color":"black"},
"spacing":0,
"bounds":"flush",
"vconcat":[
{"title":"b0","mark":"line","encoding":{"x":{"field":"t","type":"quantitative","title":null,"scale":{"domain":[-10,10]}},"y":{"field":"b0","type":"quantitative","title":null,"scale":{"domain":[0,148]},"axis":{"values":[0,10,20,30,40,50,60,70,80,90,100,110,120,130,140],"labelExpr":"datum.value%50?'':datum.label","gridDash":{"condition":{"test":"datum.value%50===0","value":[8,526,8]},"value":[4,534,4]}}}}},
{"title":"b1","mark":"line","encoding":{"x":{"field":"t","type":"quantitative","title":null,"scale":{"domain":[-10,10]}},"y":{"field":"b1","type":"quantitative","title":null,"scale":{"domain":[0,140]},"axis":{"values":[0,10,20,30,40,50,60,70,80,90,100,110,120,130],"labelExpr":"datum.value%50?'':datum.label","gridDash":{"condition":{"test":"datum.value%50===0","value":[8,526,8]},"value":[4,534,4]}}}}},
{"title":"n0","mark":"line","encoding":{"x":{"field":"t","type":"quantitative","title":null,"scale":{"domain":[-10,10]}},"y":{"field":"n0","type":"quantitative","title":null,"scale":{"domain":[0,88]},"axis":{"values":[0,10,20,30,40,50,60,70,80],"labelExpr":"datum.value%20?'':datum.label","gridDash":{"condition":{"test":"datum.value%20===0","value":[8,526,8]},"value":[4,534,4]}}}}},
{"title":"n1","mark":"line","encoding":{"x":{"field":"t","type":"quantitative","title":null,"scale":{"domain":[-10,10]}},"y":{"field":"n1","type":"quantitative","title":null,"scale":{"domain":[0,110]},"axis":{"values":[0,10,20,30,40,50,60,70,80,90,100,110],"labelExpr":"datum.value%50?'':datum.label","gridDash":{"condition":{"test":"datum.value%50===0","value":[8,526,8]},"value":[4,534,4]}}}}},
{"title":"n2","mark":"line","encoding":{"x":{"field":"t","type":"quantitative","title":null,"scale":{"domain":[-10,10]}},"y":{"field":"n2","type":"quantitative","title":null,"scale":{"domain":[0,88]},"axis":{"values":[0,10,20,30,40,50,60,70,80],"labelExpr":"datum.value%20?'':datum.label","gridDash":{"condition":{"test":"datum.value%20===0","value":[8,526,8]},"value":[4,534,4]}}}}},
{"title":"n3","mark":"line","encoding":{"x":{"field":"t","type":"quantitative","title":null,"scale":{"domain":[-10,10]}},"y":{"field":"n3","type":"quantitative","title":null,"scale":{"domain":[0,105]},"axis":{"values":[0,10,20,30,40,50,60,70,80,90,100],"labelExpr":"datum.value%50?'':datum.label","gridDash":{"condition":{"test":"datum.value%50===0","value":[8,526,8]},"value":[4,534,4]}}}}},
{"title":"n4","mark":"line","encoding":{"x":{"field":"t","type":"quantitative","title":null,"scale":{"domain":[-10,10]}},"y":{"field":"n4","type":"quantitative","title":null,"scale":{"domain":[0,105]},"axis":{"values":[0,10,20,30,40,50,60,70,80,90,100],"labelExpr":"datum.value%50?'':datum.label","gridDash":{"condition":{"test":"datum.value%50===0","value":[8,526,8]},"value":[4,534,4]}}}}},
{"title":"n5","mark":"line","encoding":{"x":{"field":"t","type":"quantitative","title":null,"scale":{"domain":[-10,10]}},"y":{"field":"n5","type":"quantitative","title":null,"scale":{"domain":[0,105]},"axis":{"values":[0,10,20,30,40,50,60,70,80,90,100],"labelExpr":"datum.value%50?'':datum.label","gridDash":{"condition":{"test":"datum.value%50===0","value":[8,526,8]},"value":[4,534,4]}}}}},
{"title":"n6","mark":"line","encoding":{"x":{"field":"t","type":"quantitative","title":null,"scale":{"domain":[-10,10]}},"y":{"field":"n6","type":"quantitative","title":null,"scale":{"domain":[0,88]},"axis":{"values":[0,10,20,30,40,50,60,70,80],"labelExpr":"datum.value%20?'':datum.label","gridDash":{"condition":{"test":"datum.value%20===0","value":[8,526,8]},"value":[4,534,4]}}}}},
{"title":"n7","mark":"line","encoding":{"x":{"field":"t","type":"quantitative","title":null,"scale":{"domain":[-10,10]}},"y":{"field":"n7","type":"quantitative","title":null,"scale":{"domain":[0,103]},"axis":{"values":[0,10,20,30,40,50,60,70,80,90,100],"labelExpr":"datum.value%50?'':datum.label","gridDash":{"condition":{"test":"datum.value%50===0","value":[8,526,8]},"value":[4,534,4]}}}}},
{"title":"n8","mark":"line","encoding":{"x":{"field":"t","type":"quantitative","title":null,"scale":{"domain":[-10,10]}},"y":{"field":"n8","type":"quantitative","title":null,"scale":{"domain":[0,88]},"axis":{"values":[0,10,20,30,40,50,60,70,80],"labelExpr":"datum.value%20?'':datum.label","gridDash":{"condition":{"test":"datum.value%20===0","value":[8,526,8]},"value":[4,534,4]}}}}},
{"title":"n9","mark":"line","encoding":{"x":{"field":"t","type":"quantitative","title":null,"scale":{"domain":[-10,10]}},"y":{"field":"n9","type":"quantitative","title":null,"scale":{"domain":[0,88]},"axis":{"values":[0,10,20,30,40,50,60,70,80],"labelExpr":"datum.value%20?'':datum.label","gridDash":{"condition":{"test":"datum.value%20===0","value":[8,526,8]},"value":[4,534,4]}}}}},
{"title":"na","mark":"line","encoding":{"x":{"field":"t","type":"quantitative","title":null,"scale":{"domain":[-10,10]}},"y":{"field":"na","type":"quantitative","title":null,"scale":{"domain":[0,88]},"axis":{"values":[0,10,20,30,40,50,60,70,80],"labelExpr":"datum.value%20?'':datum.label","gridDash":{"condition":{"test":"datum.value%20===0","value":[8,526,8]},"value":[4,534,4]}}}}},
{"title":{"text":"nb","offset":-4},"mark":"line","encoding":{"x":{"field":"t","type":"quantitative","title":"Time \u2212 512158306.494284 [sec]","scale":{"domain":[-10,10]},"axis":{"labels":true,"labelExpr":"datum.value%5?'':datum.label","minExtent":20,"maxExtent":80}},"y":{"field":"nb","type":"quantitative","title":null,"scale":{"domain":[0,80]},"axis":{"values":[0,10,20,30,40,50,60,70],"labelExpr":"datum.value%20?'':datum.label","gridDash":{"condition":{"test":"datum.value%20===0","value":[8,526,8]},"value":[4,534,4]}}}}}
]}],
"config":{
"font":"DejaVu Sans",
"view":{"stroke":"black","strokeWidth":1,"continuousWidth":542,"continuousHeight":48.7},
"line":{"color":"black","strokeWidth":1.2,"interpolate":"linear"},
"axis":{"domain":false,"ticks":false,"grid":true,"gridColor":"black","gridOpacity":1,"gridWidth":1,"labelColor":"black","labelFont":"DejaVu Sans","labelFontSize":14,"labelOverlap":false,"labelBound":false,"labelFlush":false,"titleColor":"black","titleFont":"DejaVu Sans","titleFontWeight":"normal","titleFontSize":17},
"axisX":{"tickCount":20,"labels":false,"labelPadding":6,"titlePadding":13,"minExtent":0,"maxExtent":0,"gridDash":{"condition":{"test":"datum.value%5===0","value":[8,32.7,8]},"value":[4,40.7,4]}},
"axisY":{"labelPadding":10,"labelOffset":-3,"minExtent":38,"maxExtent":38},
"title":{"orient":"right","anchor":"middle","frame":"group","angle":0,"fontSize":11,"font":"Liberation Sans","fontWeight":"normal","offset":2,"align":"left","baseline":"middle","color":"black"},
"concat":{"spacing":0}
}
}
